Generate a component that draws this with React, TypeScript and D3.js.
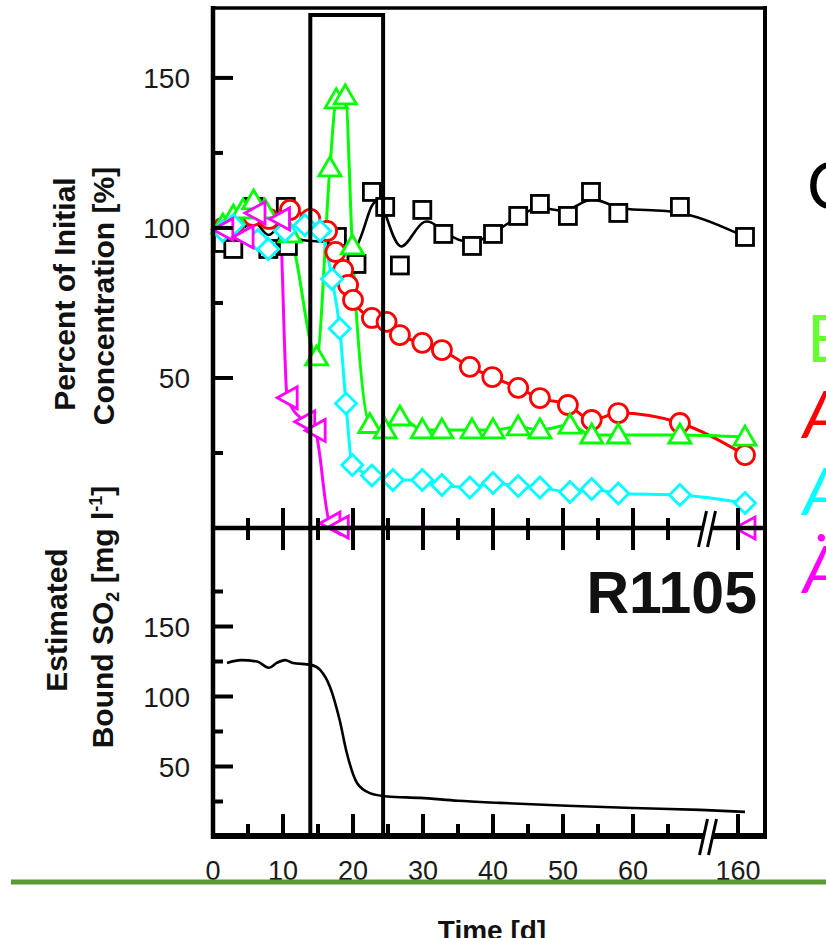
import React from 'react';
import * as d3 from 'd3';

// [day, percent of initial]
const controlPts: [number, number][] = [
  [1.4, 95], [2.9, 93], [5.8, 107], [7.9, 93], [10.4, 107], [10.7, 94],
  [17.7, 97], [20.5, 88], [22.7, 112], [24.6, 107], [26.7, 87.5], [29.9, 106],
  [32.9, 98], [37, 94], [40, 98], [43.6, 104], [46.7, 108], [50.7, 104],
  [54, 112], [57.9, 105], [66.7, 107], [161, 97],
];
const redPts: [number, number][] = [
  [1.4, 100], [3, 101], [5.7, 104], [8, 103], [11, 106], [13.9, 103], [16.3, 99],
  [17.5, 92], [18.6, 86], [19.3, 81], [20, 76], [22.7, 70], [24.8, 68.7],
  [26.7, 64.3], [29.9, 61.7], [32.7, 59.3], [36.7, 53.7], [39.9, 50.3],
  [43.6, 46.7], [46.7, 43.3], [50.7, 41], [54.1, 36], [57.9, 38.3], [66.7, 35], [161, 24.3],
];
const greenPts: [number, number][] = [
  [1.4, 101], [2.9, 104], [4.3, 106], [5.8, 109], [7.4, 106], [11, 98], [14.8, 57],
  [16.7, 120], [17.6, 142.7], [18.9, 144], [19.9, 94], [22.4, 34.5], [24.6, 32.7],
  [26.7, 37], [29.9, 32.7], [32.7, 32.7], [37, 32.7], [40, 32.7], [43.6, 33.7],
  [46.7, 32.7], [51, 34.3], [54.1, 31], [57.9, 31], [66.7, 31], [161, 30.3],
];
const cyanPts: [number, number][] = [
  [1.4, 99], [2.9, 101], [6.4, 96], [7.9, 93], [10.3, 99], [13.1, 101], [15.3, 99],
  [17, 83], [18.1, 66.5], [19, 41.5], [19.9, 21], [22.7, 17.5], [25.7, 16],
  [29.9, 16], [32.7, 14.3], [36.7, 13.5], [40, 15], [43.6, 14], [46.7, 13.5],
  [51, 12], [54.1, 13], [57.9, 11.5], [66.7, 11], [161, 8.3],
];
const magentaPts: [number, number][] = [
  [1.4, 99.5], [4.3, 97], [6, 105], [9.5, 103], [10.6, 43.4], [13.1, 35.4],
  [14.6, 32.5], [16.7, 1.6], [17.9, 0.3], [161, 0],
];
// [day, mg/l]
const boundSO2: [number, number][] = [
  [2, 124], [4, 126], [6.3, 125], [8, 120.5], [9.1, 124], [10.3, 126], [11.4, 124],
  [14, 122.6], [15.3, 119], [16.7, 107], [18.1, 83], [19.1, 60], [20.6, 38],
  [22.4, 31], [24.9, 28.6], [29.6, 27.6], [35, 25.5], [41, 24], [50.6, 22],
  [60, 20.4], [69.6, 19], [161, 17.6],
];

const xMajor = [0, 10, 20, 30, 40, 50, 60, 160];
const xMinor = [5, 15, 25, 35, 45, 55, 65];
const yTopMajor = [50, 100, 150];
const yTopMinor = [25, 75, 125];
const yBotMajor = [50, 100, 150];
const yBotMinor = [25, 75, 125, 175];
const highlightDays = [13.9, 24.3];
const legendLetters = ['C', 'E', 'A', 'A', 'Ä'];
const legendColors = ['#000000', '#66ff33', '#ff0000', '#00ffff', '#ff00ff'];

const FONT = '"Liberation Sans", Arial, sans-serif';

const x = d3.scaleLinear().domain([0, 70, 155, 170]).range([213, 703, 703, 808]);
const yTop = d3.scaleLinear().domain([0, 173.3]).range([528, 8]);
const yBot = d3.scaleLinear().domain([0, 220]).range([836.5, 528.5]);

const L = 213, R = 765, T = 8, MID = 528, B = 836;
const breakX = x(70) + 4;

const topLine = (curve: d3.CurveFactory) =>
  d3.line<[number, number]>().x(d => x(d[0])).y(d => yTop(d[1])).curve(curve);

type Shape = 'square' | 'circle' | 'up' | 'diamond' | 'left';

const Marker = ({ cx, cy, shape, color }: { cx: number; cy: number; shape: Shape; color: string }) => {
  const common = { fill: '#fff', stroke: color, strokeWidth: 2.8 };
  if (shape === 'square') return <rect x={cx - 8.5} y={cy - 8.5} width={17} height={17} {...common} />;
  if (shape === 'circle') return <circle cx={cx} cy={cy} r={9.5} {...common} />;
  let pts: number[][] = [];
  if (shape === 'up') pts = [[0, -11], [11, 8], [-11, 8]];
  if (shape === 'diamond') pts = [[0, -10.5], [10.5, 0], [0, 10.5], [-10.5, 0]];
  if (shape === 'left') pts = [[-10, 0], [10, -11], [10, 11]];
  return <polygon points={pts.map(p => `${cx + p[0]},${cy + p[1]}`).join(' ')} {...common} />;
};

const series: { pts: [number, number][]; color: string; shape: Shape; curve: d3.CurveFactory; w: number }[] = [
  { pts: controlPts, color: '#000', shape: 'square', curve: d3.curveBasis, w: 2.6 },
  { pts: redPts, color: '#ff0000', shape: 'circle', curve: d3.curveMonotoneX, w: 3 },
  { pts: greenPts, color: '#00ff00', shape: 'up', curve: d3.curveMonotoneX, w: 3 },
  { pts: cyanPts, color: '#00ffff', shape: 'diamond', curve: d3.curveMonotoneX, w: 3 },
  { pts: magentaPts, color: '#ff00ff', shape: 'left', curve: d3.curveMonotoneX, w: 3 },
];

const BreakMark = ({ cx, y0 }: { cx: number; y0: number }) => (
  <g>
    <polygon points={`${cx - 9},${y0 + 19} ${cx - 1},${y0 - 17} ${cx + 9},${y0 - 17} ${cx + 1},${y0 + 19}`} fill="#fff" />
    <line x1={cx - 8.5} y1={y0 + 19} x2={cx - 0.5} y2={y0 - 17} stroke="#000" strokeWidth={3} />
    <line x1={cx + 0.5} y1={y0 + 19} x2={cx + 8.5} y2={y0 - 17} stroke="#000" strokeWidth={3} />
  </g>
);

export default function App() {
  const soLine = d3.line<[number, number]>().x(d => x(d[0])).y(d => yBot(d[1])).curve(d3.curveMonotoneX);
  const tickColor = '#000';
  return (
    <svg width={826} height={938} style={{ position: 'absolute', left: 0, top: 0, background: '#fff' }}>
      <rect width={826} height={938} fill="#fff" />

      {/* series */}
      {series.map((s, i) => (
        <g key={i}>
          <path d={topLine(s.curve)(s.pts) || ''} fill="none" stroke={s.color} strokeWidth={s.w} />
        </g>
      ))}
      {series.map((s, i) => (
        <g key={'m' + i}>
          {s.pts.map((p, j) => (
            <Marker key={j} cx={x(p[0])} cy={yTop(p[1])} shape={s.shape} color={s.color} />
          ))}
        </g>
      ))}
      <path d={soLine(boundSO2) || ''} fill="none" stroke="#000" strokeWidth={2.6} />

      {/* frame */}
      <line x1={L} y1={T} x2={R} y2={T} stroke="#000" strokeWidth={3.5} />
      <line x1={L} y1={T - 2} x2={L} y2={B + 3} stroke="#000" strokeWidth={4.5} />
      <line x1={R} y1={T - 2} x2={R} y2={B + 3} stroke="#000" strokeWidth={4} />
      <line x1={L} y1={MID} x2={R} y2={MID} stroke="#000" strokeWidth={4.5} />
      <line x1={L - 2} y1={B} x2={R + 2} y2={B} stroke="#000" strokeWidth={6} />

      {/* highlight box */}
      <rect x={x(highlightDays[0])} y={15} width={x(highlightDays[1]) - x(highlightDays[0])} height={B - 15}
        fill="none" stroke="#000" strokeWidth={4} />

      {/* x ticks */}
      {xMajor.map(d => (
        <g key={'xM' + d}>
          <line x1={x(d)} x2={x(d)} y1={MID - 20} y2={MID + 22} stroke={tickColor} strokeWidth={4} />
          <line x1={x(d)} x2={x(d)} y1={B} y2={B - 22} stroke={tickColor} strokeWidth={4} />
          <text x={x(d)} y={880} textAnchor="middle" fontFamily={FONT} fontSize={27} fill="#1a1a1a">{d}</text>
        </g>
      ))}
      {xMinor.map(d => (
        <g key={'xm' + d}>
          <line x1={x(d)} x2={x(d)} y1={MID - 10} y2={MID + 12} stroke={tickColor} strokeWidth={4} />
          <line x1={x(d)} x2={x(d)} y1={B} y2={B - 12} stroke={tickColor} strokeWidth={4} />
        </g>
      ))}

      {/* y ticks */}
      {yTopMajor.map(v => (
        <g key={'yt' + v}>
          <line x1={L} x2={L + 20} y1={yTop(v)} y2={yTop(v)} stroke={tickColor} strokeWidth={4} />
          <text x={190} y={yTop(v)} dy="0.36em" textAnchor="end" fontFamily={FONT} fontSize={28} fill="#1a1a1a">{v}</text>
        </g>
      ))}
      {yTopMinor.map(v => (
        <line key={'ytm' + v} x1={L} x2={L + 10} y1={yTop(v)} y2={yTop(v)} stroke={tickColor} strokeWidth={4} />
      ))}
      {yBotMajor.map(v => (
        <g key={'yb' + v}>
          <line x1={L} x2={L + 20} y1={yBot(v)} y2={yBot(v)} stroke={tickColor} strokeWidth={4} />
          <text x={190} y={yBot(v)} dy="0.36em" textAnchor="end" fontFamily={FONT} fontSize={28} fill="#1a1a1a">{v}</text>
        </g>
      ))}
      {yBotMinor.map(v => (
        <line key={'ybm' + v} x1={L} x2={L + 10} y1={yBot(v)} y2={yBot(v)} stroke={tickColor} strokeWidth={4} />
      ))}

      <BreakMark cx={breakX} y0={MID} />
      <BreakMark cx={breakX + 1} y0={B} />

      {/* axis titles */}
      <g fontFamily={FONT} fontWeight="bold" fontSize={30} fill="#111">
        <text transform="translate(75,294) rotate(-90)" textAnchor="middle">Percent of Initial</text>
        <text transform="translate(114,296) rotate(-90)" textAnchor="middle">Concentration [%]</text>
        <text transform="translate(67,620) rotate(-90)" textAnchor="middle">Estimated</text>
        <text transform="translate(113,617) rotate(-90)" textAnchor="middle">
          Bound SO<tspan fontSize={18} dy={6}>2</tspan>
          <tspan dy={-6}> [mg l</tspan>
          <tspan fontSize={18} dy={-11}>-1</tspan>
          <tspan dy={11}>]</tspan>
        </text>
        <text x={492} y={940} textAnchor="middle" fontSize={28}>Time [d]</text>
      </g>

      <text x={757} y={613} textAnchor="end" fontFamily={FONT} fontWeight="bold" fontSize={59} fill="#111">R1105</text>

      {/* legend, cut off at the right edge */}
      {legendLetters.map((t, i) => (
        <text key={'lg' + i} x={i < 2 ? 807 : 803} y={[209, 362, 438, 515, 593][i]}
          fontFamily="Lato, 'Open Sans', sans-serif" fontSize={65}
          fontStyle={i < 2 ? 'normal' : 'italic'} fill={legendColors[i]}>{t}</text>
      ))}

      {/* slide rule */}
      <line x1={11} x2={826} y1={882} y2={882} stroke="#5a9a30" strokeWidth={5} />
    </svg>
  );
}
